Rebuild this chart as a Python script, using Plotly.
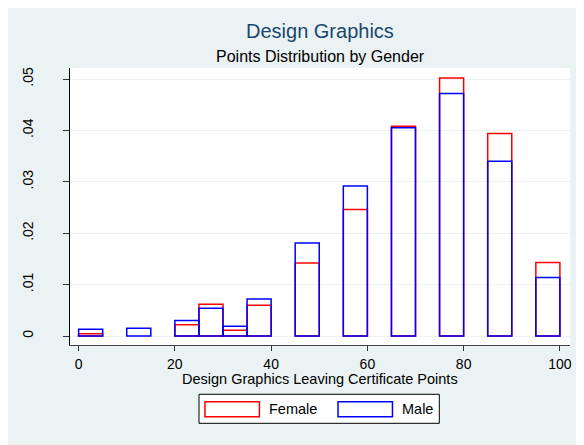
import plotly.graph_objects as go

# Histogram bins (width 5) - bin centers
bin_centers = [2.5, 12.5, 22.5, 27.5, 32.5, 37.5, 47.5, 57.5, 67.5, 77.5, 87.5, 97.5]
female_density = [0.00045, None, 0.0022, 0.0062, 0.0011, 0.0060, 0.0142, 0.0246, 0.0408, 0.0502, 0.0394, 0.0143]
male_density = [0.0013, 0.0015, 0.0030, 0.0054, 0.0019, 0.0072, 0.0181, 0.0292, 0.0405, 0.0472, 0.0340, 0.0114]

x_ticks = [0, 20, 40, 60, 80, 100]
y_ticks = [0, 0.01, 0.02, 0.03, 0.04, 0.05]
y_tick_labels = ["0", ".01", ".02", ".03", ".04", ".05"]

title = "Design Graphics"
subtitle = "Points Distribution by Gender"
x_title = "Design Graphics Leaving Certificate Points"
series_names = ["Female", "Male"]
series_colors = ["#ff0000", "#0000ff"]

BG = "#eaf2f3"
FONT = "Liberation Sans, Arial, sans-serif"

fig = go.Figure()
for name, vals, col in zip(series_names, [female_density, male_density], series_colors):
    fig.add_trace(go.Bar(
        x=bin_centers, y=vals, width=5, name=name,
        marker=dict(color="rgba(0,0,0,0)", line=dict(color=col, width=1.5)),
        showlegend=False,
    ))

# page has an 8px body margin; figure sized to fill the rest of the window
OFF = 8
W, H = 584 - OFF, 445 - OFF
L, R, T, B = 67 - OFF, 12, 68 - OFF, 100
pw, ph = W - L - R, H - T - B


def px(xs):
    return (xs - OFF - L) / pw


def py(ys):
    return (H - B - (ys - OFF)) / ph


shapes = [
    # legend box
    dict(type="rect", xref="paper", yref="paper", x0=px(197.3), x1=px(440), y0=py(423.3), y1=py(394.3),
         fillcolor="white", line=dict(color="black", width=1)),
    dict(type="rect", xref="paper", yref="paper", x0=px(203.3), x1=px(258.3), y0=py(416.7), y1=py(401.7),
         fillcolor="white", line=dict(color=series_colors[0], width=1.5)),
    dict(type="rect", xref="paper", yref="paper", x0=px(337.7), x1=px(392.7), y0=py(416.7), y1=py(401.7),
         fillcolor="white", line=dict(color=series_colors[1], width=1.5)),
]

annotations = [
    dict(text=title, xref="paper", yref="paper", x=0.5, y=py(31), xanchor="center", yanchor="middle",
         showarrow=False, font=dict(family=FONT, size=20, color="#1a476f")),
    dict(text=subtitle, xref="paper", yref="paper", x=0.5, y=py(56), xanchor="center", yanchor="middle",
         showarrow=False, font=dict(family=FONT, size=16, color="black")),
    dict(text=x_title, xref="paper", yref="paper", x=0.5, y=py(379), xanchor="center", yanchor="middle",
         showarrow=False, font=dict(family=FONT, size=14.5, color="black")),
    dict(text=series_names[0], xref="paper", yref="paper", x=px(266), y=py(409), xanchor="left", yanchor="middle",
         showarrow=False, font=dict(family=FONT, size=14.5, color="black")),
    dict(text=series_names[1], xref="paper", yref="paper", x=px(400.5), y=py(409), xanchor="left", yanchor="middle",
         showarrow=False, font=dict(family=FONT, size=14.5, color="black")),
]

fig.update_layout(
    width=W, height=H,
    margin=dict(l=L, r=R, t=T, b=B, pad=0),
    paper_bgcolor=BG, plot_bgcolor="white",
    barmode="overlay",
    font=dict(family=FONT, size=14, color="black"),
    shapes=shapes, annotations=annotations,
    xaxis=dict(range=[-1.79, 102.1], tickvals=x_ticks, ticks="outside", ticklen=5, tickcolor="#333",
               showline=True, linecolor="#444", linewidth=1, showgrid=False, zeroline=False,
               tickfont=dict(size=14), ticklabelstandoff=1),
    yaxis=dict(range=[-0.00175, 0.05214], tickvals=y_ticks, ticktext=y_tick_labels, tickangle=-90,
               ticks="outside", ticklen=6, tickcolor="#333", showline=True, linecolor="black", linewidth=1,
               showgrid=True, gridcolor=BG, gridwidth=1, zeroline=False,
               tickfont=dict(size=14), ticklabelstandoff=24),
)

fig.write_html("out.html")
